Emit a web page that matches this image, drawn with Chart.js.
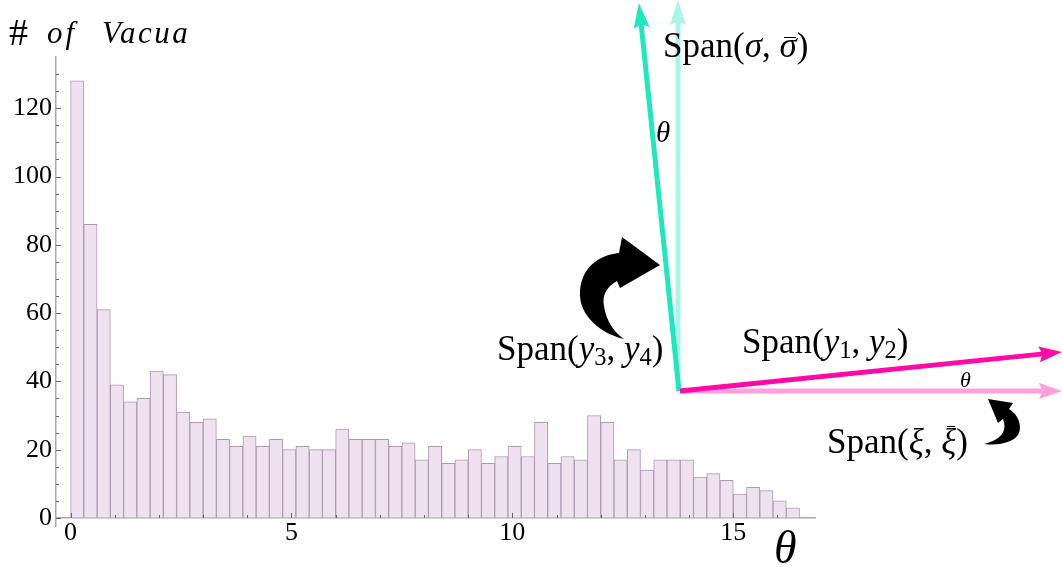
<!DOCTYPE html>
<html><head><meta charset="utf-8">
<script src="https://cdn.jsdelivr.net/npm/chart.js@4.4.1/dist/chart.umd.min.js"></script>
<style>
html,body{margin:0;padding:0;background:#fff;}
#wrap{position:relative;width:1062px;height:567px;overflow:hidden;background:#fff;}
canvas{position:absolute;left:0;top:0;}
.t{position:absolute;font-family:"Liberation Serif","Times New Roman",serif;line-height:1;white-space:nowrap;color:#000;}
.t i{font-style:italic;}
.t .sb{font-size:0.7em;position:relative;top:0.22em;}
.t .bar{position:relative;display:inline-block;}
.t .bar::after{content:'';position:absolute;left:0.14em;right:0.02em;top:0.27em;border-top:1.6px solid #000;}
.t .bar.hi::after{top:0.05em;left:0.16em;}
</style></head>
<body><div id="wrap">
<canvas id="c" width="1062" height="567"></canvas>
<div class="t" style="left:9px;top:13px;font-size:38px;">#</div>
<div class="t" style="left:47px;top:17px;font-size:31px;font-style:italic;letter-spacing:3px;">of</div>
<div class="t" style="left:102px;top:17px;font-size:31px;font-style:italic;letter-spacing:2.5px;">Vacua</div>
<div class="t" style="left:774px;top:525px;font-size:46px;font-style:italic;">θ</div>
<div class="t" style="left:663px;top:28px;font-size:35px;">Span(<i>σ</i>, <i class="bar">σ</i>)</div>
<div class="t" style="left:497px;top:331px;font-size:35px;">Span(<i>y</i><span class="sb">3</span>, <i>y</i><span class="sb">4</span>)</div>
<div class="t" style="left:742px;top:324px;font-size:35px;">Span(<i>y</i><span class="sb">1</span>, <i>y</i><span class="sb">2</span>)</div>
<div class="t" style="left:827px;top:424px;font-size:35px;">Span(<i>ξ</i>, <i class="bar hi">ξ</i>)</div>
<div class="t" style="left:656px;top:118px;font-size:29px;font-style:italic;">θ</div>
<div class="t" style="left:960px;top:369px;font-size:22px;font-style:italic;">θ</div>
</div>
<script>
// ---- data ----
const binStarts = [0,0.3,0.6,0.9,1.2,1.5,1.8,2.1,2.4,2.7,3,3.3,3.6,3.9,4.2,4.5,4.8,5.1,5.4,5.7,6,6.3,6.6,6.9,7.2,7.5,7.8,8.1,8.4,8.7,9,9.3,9.6,9.9,10.2,10.5,10.8,11.1,11.4,11.7,12,12.3,12.6,12.9,13.2,13.5,13.8,14.1,14.4,14.7,15,15.3,15.6,15.9,16.2];
const binWidth = 0.3;
const vacuaCounts = [128,86,61,39,34,35,43,42,31,28,29,23,21,24,21,23,20,21,20,20,26,23,23,23,21,22,17,21,16,17,20,16,18,21,18,28,16,18,17,30,28,17,20,14,17,17,17,12,13,11,7,9,8,5,3];
const xTickLabels = [0,5,10,15];
const yTickLabels = [0,20,40,60,80,100,120];
const xMinorStep = 1, yMinorStep = 5;

const histData = binStarts.map((s,i)=>({x: s + binWidth/2, y: vacuaCounts[i]}));

function arrow(ctx,x1,y1,x2,y2,color,w,hl,hw){
  const dx=x2-x1, dy=y2-y1, L=Math.hypot(dx,dy), ux=dx/L, uy=dy/L, px=-uy, py=ux;
  ctx.strokeStyle=color; ctx.fillStyle=color; ctx.lineWidth=w; ctx.lineCap='butt';
  ctx.beginPath(); ctx.moveTo(x1,y1); ctx.lineTo(x2-ux*hl*0.8,y2-uy*hl*0.8); ctx.stroke();
  ctx.beginPath(); ctx.moveTo(x2,y2);
  ctx.lineTo(x2-ux*hl+px*hw/2, y2-uy*hl+py*hw/2);
  ctx.lineTo(x2-ux*hl*0.85, y2-uy*hl*0.85);
  ctx.lineTo(x2-ux*hl-px*hw/2, y2-uy*hl-py*hw/2);
  ctx.closePath(); ctx.fill();
}

const decor = {
  id:'decor',
  afterDraw(chart){
    const ctx=chart.ctx, xs=chart.scales.x, ys=chart.scales.y;
    const x0=chart.chartArea.left, y0=ys.getPixelForValue(0);
    ctx.save();
    ctx.strokeStyle='#666'; ctx.lineWidth=1;
    ctx.beginPath();
    for(let v=0; v<=130; v+=yMinorStep){
      const p=Math.round(ys.getPixelForValue(v))+0.5;
      const len = yTickLabels.includes(v)?5:3;
      ctx.moveTo(x0,p); ctx.lineTo(x0+len,p);
    }
    for(let v=0; v<=16; v+=xMinorStep){
      const p=Math.round(xs.getPixelForValue(v))+0.5;
      const len = xTickLabels.includes(v)?5:3;
      ctx.moveTo(p,y0); ctx.lineTo(p,y0-len);
    }
    ctx.stroke();
    // diagram arrows
    arrow(ctx,678,391,678,0,'#a8f7e4',5,25,16);
    arrow(ctx,680,391,1062,391,'#ff9fe0',5,23,16);
    arrow(ctx,679,391,639,3,'#1ee8c0',5,25,16);
    arrow(ctx,680,391,1062,352,'#ff0aa6',5,23,16);
    // big curved black arrow
    ctx.fillStyle='#000';
    ctx.beginPath();
    ctx.moveTo(624,339);
    ctx.bezierCurveTo(602,334,578,316,580,291);
    ctx.bezierCurveTo(582,266,600,255,619,253);
    ctx.lineTo(622,237);
    ctx.lineTo(660,265);
    ctx.lineTo(620,288);
    ctx.lineTo(617,281);
    ctx.bezierCurveTo(606,287,602,296,604,306);
    ctx.bezierCurveTo(606,321,615,333,624,339);
    ctx.closePath(); ctx.fill();
    // small curved black arrow
    ctx.beginPath();
    ctx.moveTo(988,399);
    ctx.lineTo(1013,403);
    ctx.lineTo(1009,409);
    ctx.bezierCurveTo(1018,414,1022,425,1019,433);
    ctx.bezierCurveTo(1015,442,1000,446,984,444);
    ctx.bezierCurveTo(1000,440,1008,432,1003,419);
    ctx.lineTo(998,423);
    ctx.closePath(); ctx.fill();
    ctx.restore();
  }
};

const tickFont = {family:'"Liberation Serif", serif', size:26};
new Chart(document.getElementById('c'), {
  type:'bar',
  data:{datasets:[{
    data: histData,
    backgroundColor:'#f0e1f0',
    borderColor:'#ad99b0',
    borderWidth:1,
    barPercentage:1, categoryPercentage:1
  }]},
  options:{
    responsive:false, animation:false, devicePixelRatio:1,
    layout:{padding:{left:0, top:57, right:247, bottom:40.5}},
    plugins:{legend:{display:false}, tooltip:{enabled:false}},
    scales:{
      x:{type:'linear', min:-0.33, max:16.85, offset:false, position:{y:0},
         grid:{display:true, drawOnChartArea:false, drawTicks:false, offset:false},
         border:{display:true, color:'#aaaaaa', width:1.5},
         afterBuildTicks:s=>{ s.ticks = xTickLabels.map(v=>({value:v})); },
         ticks:{font:tickFont, color:'#000', padding:0, maxRotation:0, autoSkip:false}},
      y:{type:'linear', min:-2.5, max:135,
         grid:{display:true, drawOnChartArea:false, drawTicks:false},
         border:{display:true, color:'#aaaaaa', width:1.5},
         afterBuildTicks:s=>{ s.ticks = yTickLabels.map(v=>({value:v})); },
         afterFit:s=>{ s.width = 56; },
         ticks:{font:tickFont, color:'#000', padding:4, autoSkip:false}}
    }
  },
  plugins:[decor]
});
</script>
</body></html>
